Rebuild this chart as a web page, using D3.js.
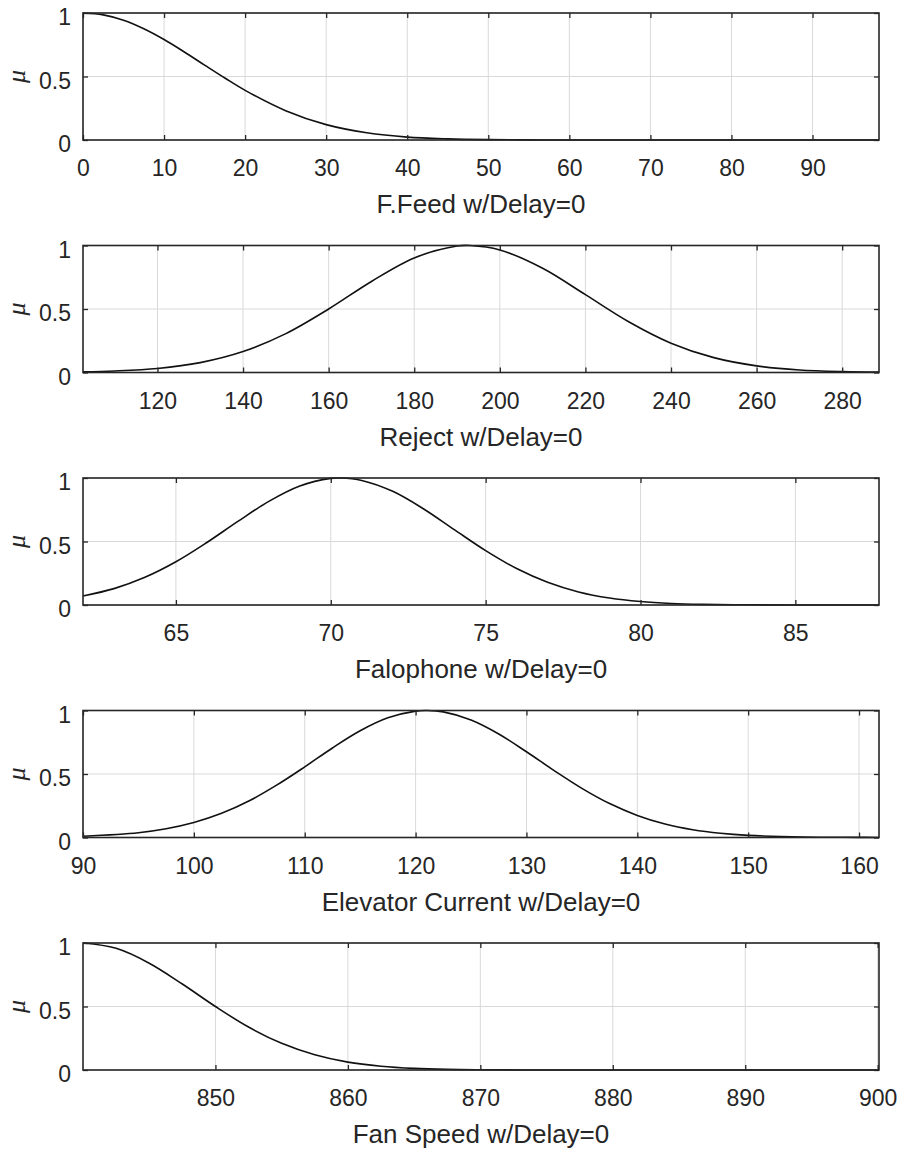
<!DOCTYPE html>
<html>
<head>
<meta charset="utf-8">
<script src="https://cdn.jsdelivr.net/npm/d3@7"></script>
<style>
	body { margin: 0; background: #fff; }
	text { font-family: "Liberation Sans", Arial, sans-serif; fill: #262626; }
</style>
</head>
<body>
<svg id="chart" width="899" height="1155"></svg>
<script>
// Axis labels and x ranges of the five subplots
const panelLabels = [
	"F.Feed w/Delay=0",
	"Reject w/Delay=0",
	"Falophone w/Delay=0",
	"Elevator Current w/Delay=0",
	"Fan Speed w/Delay=0",
];
const xDomains = [
	[0, 98.2],
	[102.6, 288.6],
	[62, 87.7],
	[90, 161.8],
	[840, 900.1],
];
const xTickValues = [
	[0, 10, 20, 30, 40, 50, 60, 70, 80, 90],
	[120, 140, 160, 180, 200, 220, 240, 260, 280],
	[65, 70, 75, 80, 85],
	[90, 100, 110, 120, 130, 140, 150, 160],
	[850, 860, 870, 880, 890, 900],
];
const yTicks = [0, 0.5, 1];

// Membership values
const feedX = [0, 2.5, 5, 7.5, 10, 12.5, 15, 17.5, 20, 25, 30, 35, 40, 45, 50, 55, 60, 70, 80, 90, 98.2];
const feedMu = [1, 0.985, 0.943, 0.876, 0.791, 0.693, 0.59, 0.488, 0.391, 0.231, 0.121, 0.057, 0.023, 0.009, 0.003, 0.001, 0, 0, 0, 0, 0];

const rejectX = [102.6, 110, 120, 130, 140, 150, 160, 170, 180, 190, 193, 200, 210, 220, 230, 240, 250, 260, 270, 280, 288.6];
const rejectMu = [0.005, 0.012, 0.032, 0.078, 0.165, 0.306, 0.5, 0.717, 0.902, 0.996, 1, 0.965, 0.821, 0.613, 0.402, 0.231, 0.117, 0.052, 0.02, 0.007, 0.003];

const falophoneX = [62, 63, 64, 65, 66, 67, 68, 69, 70, 70.3, 71, 72, 73, 74, 75, 76, 77, 78, 79, 80, 81, 82, 83, 84, 85, 86, 87.7];
const falophoneMu = [0.071, 0.129, 0.218, 0.34, 0.492, 0.658, 0.816, 0.937, 0.997, 1, 0.981, 0.895, 0.756, 0.591, 0.428, 0.287, 0.179, 0.103, 0.055, 0.027, 0.012, 0.005, 0.002, 0.001, 0, 0, 0];

const elevatorX = [90, 95, 97.5, 100, 102.5, 105, 107.5, 110, 112.5, 115, 117.5, 120, 121, 122.5, 125, 127.5, 130, 132.5, 135, 137.5, 140, 142.5, 145, 147.5, 150, 155, 160, 161.8];
const elevatorMu = [0.01, 0.038, 0.069, 0.118, 0.19, 0.289, 0.414, 0.556, 0.705, 0.84, 0.942, 0.995, 1, 0.989, 0.925, 0.815, 0.675, 0.527, 0.387, 0.267, 0.174, 0.106, 0.061, 0.033, 0.017, 0.004, 0.001, 0];

const fanX = [840, 842.5, 845, 847.5, 850, 852.5, 855, 857.5, 860, 862.5, 865, 867.5, 870, 875, 880, 890, 900.1];
const fanMu = [1, 0.958, 0.841, 0.677, 0.5, 0.338, 0.21, 0.12, 0.062, 0.03, 0.013, 0.005, 0.002, 0, 0, 0, 0];

const seriesX = [feedX, rejectX, falophoneX, elevatorX, fanX];
const seriesMu = [feedMu, rejectMu, falophoneMu, elevatorMu, fanMu];

// Layout
const left = 83;
const width = 796;
const height = 127;
const firstTop = 13;
const step = 232.5;

const svg = d3.select("#chart");

panelLabels.forEach((label, i) => {
	const g = svg
		.append("g")
		.attr("transform", "translate(" + left + "," + (firstTop + i * step) + ")");

	const x = d3.scaleLinear().domain(xDomains[i]).range([0, width]);
	const y = d3.scaleLinear().domain([0, 1]).range([height, 0]);

	// grid lines
	g.selectAll(".xgrid")
		.data(xTickValues[i])
		.enter()
		.append("line")
		.attr("x1", (d) => x(d))
		.attr("x2", (d) => x(d))
		.attr("y1", 0)
		.attr("y2", height)
		.attr("stroke", "#d9d9d9")
		.attr("stroke-width", 1);
	g.selectAll(".ygrid")
		.data(yTicks)
		.enter()
		.append("line")
		.attr("x1", 0)
		.attr("x2", width)
		.attr("y1", (d) => y(d))
		.attr("y2", (d) => y(d))
		.attr("stroke", "#d9d9d9")
		.attr("stroke-width", 1);

	// the membership curve
	const points = seriesX[i].map((v, k) => [v, seriesMu[i][k]]);
	const line = d3
		.line()
		.x((d) => x(d[0]))
		.y((d) => y(d[1]))
		.curve(d3.curveCatmullRom.alpha(0.5));
	g.append("path")
		.datum(points)
		.attr("d", line)
		.attr("fill", "none")
		.attr("stroke", "#111")
		.attr("stroke-width", 1.6);

	// axes with inward ticks on all four sides
	const bottom = g
		.append("g")
		.attr("transform", "translate(0," + height + ")")
		.call(d3.axisBottom(x).tickValues(xTickValues[i]).tickSize(-5).tickPadding(20).tickFormat(d3.format("d")));
	const top = g.append("g").call(d3.axisTop(x).tickValues(xTickValues[i]).tickSize(-5).tickFormat(""));
	const leftAxis = g
		.append("g")
		.call(d3.axisLeft(y).tickValues(yTicks).tickSize(-5).tickPadding(12).tickFormat((d) => (d === 0.5 ? "0.5" : d3.format("d")(d))));
	const rightAxis = g
		.append("g")
		.attr("transform", "translate(" + width + ",0)")
		.call(d3.axisRight(y).tickValues(yTicks).tickSize(-5).tickFormat(""));

	[bottom, top, leftAxis, rightAxis].forEach((a) => {
		a.select(".domain").remove();
		a.selectAll("line").attr("stroke", "#262626").attr("stroke-width", 1.3);
	});
	bottom.selectAll("text").style("font-size", "23px").attr("fill", "#333");
	leftAxis.selectAll("text").style("font-size", "23px").attr("fill", "#333").attr("dy", "0.5em");

	// box
	g.append("rect")
		.attr("width", width)
		.attr("height", height)
		.attr("fill", "none")
		.attr("stroke", "#262626")
		.attr("stroke-width", 1.6);

	// x label
	g.append("text")
		.attr("x", width / 2)
		.attr("y", height + 73)
		.style("text-anchor", "middle")
		.style("font-size", "26px")
		.text(label);

	// y label
	g.append("text")
		.attr("transform", "rotate(-90)")
		.attr("x", -height / 2)
		.attr("y", -58)
		.style("text-anchor", "middle")
		.style("font-size", "26px")
		.style("font-style", "italic")
		.style("font-family", "'Liberation Serif', serif")
		.text("μ");
});
</script>
</body>
</html>
